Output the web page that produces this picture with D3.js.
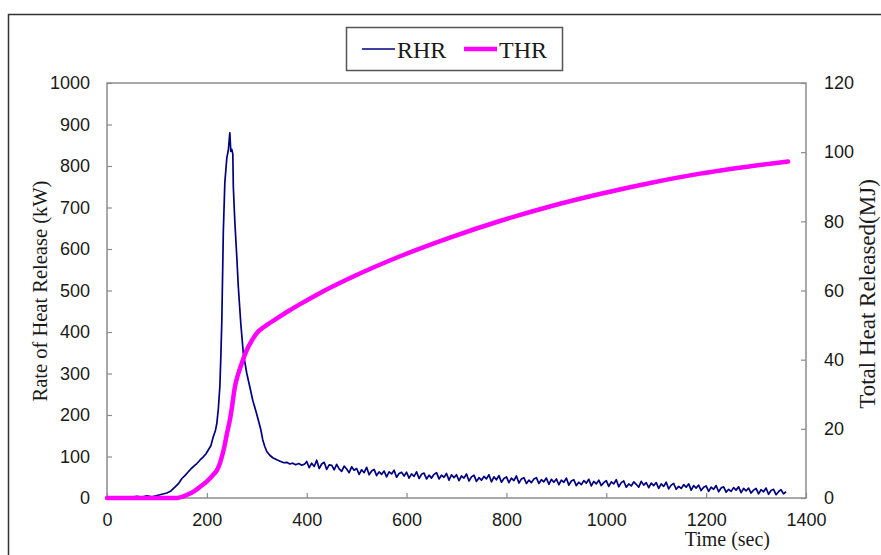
<!DOCTYPE html>
<html>
<head>
<meta charset="utf-8">
<script src="https://cdn.jsdelivr.net/npm/d3@7"></script>
<style>
body { margin: 0; background: #fff; }
svg { display: block; }
</style>
</head>
<body>
<svg id="chart" width="881" height="555"></svg>
<script>
// RHR (kW), rise and peak
var rhrTimes = [0, 10, 20, 30, 40, 50, 60, 70, 80, 90, 100, 110, 120, 128, 136, 144, 150, 156, 162, 168,
  174, 180, 186, 192, 198, 204, 208, 213, 217, 220, 223, 226, 228, 230, 233, 236, 240, 243, 246, 248,
  250, 252, 253, 256, 260, 263, 268, 273, 280, 286, 292, 298, 303, 308, 312, 316, 320, 326, 332, 340,
  348, 354, 360, 366, 372, 378, 384, 390, 396];
var rhrValues = [0, 2, 0, 3, 1, 2, 4, 2, 5, 3, 6, 9, 12, 17, 26, 36, 47, 54, 62, 70,
  77, 83, 91, 98, 106, 118, 126, 148, 162, 180, 215, 268, 340, 429, 643, 760, 820, 838, 880, 835,
  840, 829, 750, 667, 580, 509, 420, 349, 300, 268, 235, 210, 188, 165, 140, 124, 112, 103, 97, 92,
  88, 85, 86, 82, 84, 80, 83, 79, 82];

// RHR (kW) tail, one reading every 5 s from 400 s
var tailStart = 400;
var tailStep = 5;
var rhrTail = [88, 73, 84, 76, 91, 71, 82, 86, 69, 80,
  79, 68, 81, 70, 64, 77, 70, 61, 75, 67,
  71, 57, 68, 61, 74, 56, 65, 69, 54, 63,
  57, 65, 51, 63, 58, 67, 50, 59, 62, 53,
  62, 48, 58, 52, 63, 47, 57, 60, 46, 55,
  48, 57, 61, 46, 55, 50, 59, 43, 56, 49,
  56, 42, 53, 48, 58, 41, 51, 55, 40, 49,
  43, 52, 46, 56, 39, 51, 44, 54, 38, 47,
  51, 37, 48, 42, 53, 36, 46, 49, 35, 43,
  37, 46, 49, 35, 44, 39, 48, 33, 45, 38,
  46, 32, 43, 38, 48, 31, 41, 44, 30, 38,
  32, 42, 36, 45, 29, 40, 34, 43, 30, 37,
  42, 28, 39, 34, 44, 27, 37, 41, 26, 34,
  29, 39, 33, 26, 40, 31, 37, 25, 36, 30,
  37, 23, 34, 28, 38, 22, 31, 35, 21, 28,
  23, 32, 26, 34, 19, 30, 24, 31, 18, 26,
  29, 16, 26, 21, 30, 15, 24, 27, 14, 21,
  16, 25, 19, 27, 13, 23, 17, 24, 12, 19,
  23, 10, 20, 15, 24, 9, 18, 21, 8, 15,
  20, 10, 15];

// THR (MJ)
var thrTimes = [0, 140, 150, 160, 175, 186, 200, 212, 220, 226, 232, 236, 240, 246, 250, 256, 262, 270,
  280, 290, 300, 315, 326, 345, 366, 386, 427, 487, 587, 687, 787, 887, 987, 1088, 1188, 1288, 1364];
var thrValues = [0, 0, 0.3, 0.9, 2, 3.2, 4.8, 6.6, 8, 10, 13, 15.5, 18.5, 22.5, 26, 32, 35.5, 39,
  42.8, 45.5, 47.7, 49.5, 50.6, 52.4, 54.3, 56, 59.3, 63.6, 69.9, 75.3, 80.1, 84.3, 87.9, 91.1, 93.8, 95.9, 97.3];

var timeTicks = [0, 200, 400, 600, 800, 1000, 1200, 1400];
var rhrTicks = [0, 100, 200, 300, 400, 500, 600, 700, 800, 900, 1000];
var thrTicks = [0, 20, 40, 60, 80, 100, 120];

var svg = d3.select('#chart');
var sans = '"Liberation Sans", Arial, sans-serif';
var serif = '"Liberation Serif", "Times New Roman", serif';
var axisGray = '#8c8c8c';

var plot = { left: 107, right: 806, top: 83, bottom: 498 };

var x = d3.scaleLinear().domain([0, 1400]).range([plot.left, plot.right]);
var yLeft = d3.scaleLinear().domain([0, 1000]).range([plot.bottom, plot.top]);
var yRight = d3.scaleLinear().domain([0, 120]).range([plot.bottom, plot.top]);

// outer frame
svg.append('rect')
  .attr('x', 8.5)
  .attr('y', 14.5)
  .attr('width', 900)
  .attr('height', 600)
  .style('fill', 'none')
  .style('stroke', '#333')
  .style('stroke-width', 1.5);

// plot area border
svg.append('rect')
  .attr('x', plot.left)
  .attr('y', plot.top)
  .attr('width', plot.right - plot.left)
  .attr('height', plot.bottom - plot.top)
  .style('fill', 'none')
  .style('stroke', axisGray)
  .style('stroke-width', 1.5);

function styleAxis(g) {
  g.select('.domain').remove();
  g.selectAll('.tick line').style('stroke', axisGray).style('stroke-width', 1.2);
  g.selectAll('.tick text')
    .style('font-family', sans)
    .style('font-size', '18px')
    .style('fill', '#1a1a1a');
}

svg.append('g')
  .attr('transform', 'translate(0,' + plot.bottom + ')')
  .call(d3.axisBottom(x).tickValues(timeTicks).tickFormat(d3.format('d')).tickSize(-5).tickPadding(15))
  .call(styleAxis);

svg.append('g')
  .attr('transform', 'translate(' + plot.left + ',0)')
  .call(d3.axisLeft(yLeft).tickValues(rhrTicks).tickFormat(d3.format('d')).tickSize(-5).tickPadding(17))
  .call(styleAxis);

svg.append('g')
  .attr('transform', 'translate(' + plot.right + ',0)')
  .call(d3.axisRight(yRight).tickValues(thrTicks).tickFormat(d3.format('d')).tickSize(-5).tickPadding(18))
  .call(styleAxis);

// series
var rhrData = rhrTimes.map(function(t, i) { return [t, rhrValues[i]]; })
  .concat(rhrTail.map(function(v, i) { return [tailStart + i * tailStep, v]; }));
var thrData = thrTimes.map(function(t, i) { return [t, thrValues[i]]; });

svg.append('path')
  .datum(rhrData)
  .attr('d', d3.line().x(function(d) { return x(d[0]); }).y(function(d) { return yLeft(d[1]); }))
  .style('fill', 'none')
  .style('stroke', '#000080')
  .style('stroke-width', 1.7)
  .style('stroke-linejoin', 'round');

svg.append('path')
  .datum(thrData)
  .attr('d', d3.line().curve(d3.curveMonotoneX).x(function(d) { return x(d[0]); }).y(function(d) { return yRight(d[1]); }))
  .style('fill', 'none')
  .style('stroke', '#ff00ff')
  .style('stroke-width', 4.5)
  .style('stroke-linecap', 'round');

// axis titles
svg.append('text')
  .attr('x', 770)
  .attr('y', 546)
  .attr('text-anchor', 'end')
  .style('font-family', serif)
  .style('font-size', '20px')
  .style('fill', '#1a1a1a')
  .text('Time (sec)');

svg.append('text')
  .attr('transform', 'translate(47,291) rotate(-90)')
  .attr('text-anchor', 'middle')
  .style('font-family', serif)
  .style('font-size', '20.5px')
  .style('fill', '#1a1a1a')
  .text('Rate of Heat Release (kW)');

svg.append('text')
  .attr('transform', 'translate(875,294) rotate(-90)')
  .attr('text-anchor', 'middle')
  .style('font-family', serif)
  .style('font-size', '23px')
  .style('fill', '#1a1a1a')
  .text('Total Heat Released(MJ)');

// legend
var legend = svg.append('g');
legend.append('rect')
  .attr('x', 346.5)
  .attr('y', 27.5)
  .attr('width', 216)
  .attr('height', 43)
  .style('fill', '#fff')
  .style('stroke', '#555')
  .style('stroke-width', 1.5);

var legendItems = [
  { name: 'RHR', color: '#000080', width: 1.5, x: 362 },
  { name: 'THR', color: '#ff00ff', width: 4.5, x: 464 }
];

legendItems.forEach(function(item) {
  legend.append('line')
    .attr('x1', item.x)
    .attr('x2', item.x + 33)
    .attr('y1', 49)
    .attr('y2', 49)
    .style('stroke', item.color)
    .style('stroke-width', item.width);
  legend.append('text')
    .attr('x', item.x + 35)
    .attr('y', 58)
    .style('font-family', serif)
    .style('font-size', '24px')
    .style('fill', '#1a1a1a')
    .text(item.name);
});
</script>
</body>
</html>
